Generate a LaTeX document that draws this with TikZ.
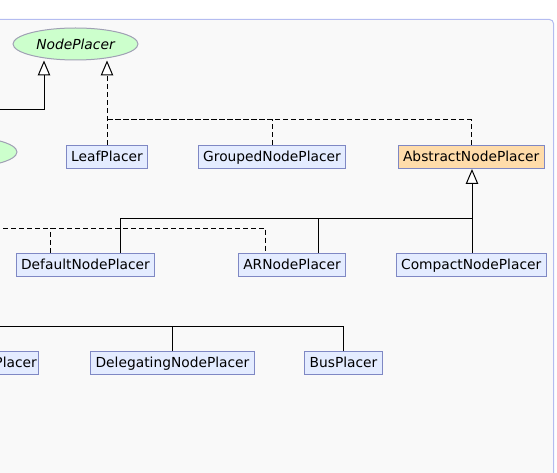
\documentclass[tikz,border=0pt]{standalone}
\usepackage{fontspec}
\setmainfont{DejaVu Sans}
\usetikzlibrary{arrows.meta,positioning,shapes.geometric}

\definecolor{panelfill}{HTML}{F9F9F9}
\definecolor{panelline}{HTML}{B4BCF0}
\definecolor{boxfill}{HTML}{E4ECFF}
\definecolor{boxline}{HTML}{7F88C4}
\definecolor{abstractfill}{HTML}{FFDCAA}
\definecolor{ifacefill}{HTML}{CCFFCC}
\definecolor{ifaceline}{HTML}{A0A0B4}

\tikzset{
    classbox/.style={draw=boxline, fill=boxfill, rectangle, line width=1pt,
        minimum height=23pt, inner xsep=5pt, inner ysep=0pt,
        text height=10pt, text depth=1pt, font=\fontsize{13.8}{16}\selectfont},
    abstractbox/.style={classbox, fill=abstractfill},
    iface/.style={draw=ifaceline, fill=ifacefill, ellipse, line width=1pt,
        minimum width=125pt, minimum height=32pt, inner sep=0pt,
        font=\fontsize{13.8}{16}\selectfont\itshape},
    extends/.style={line width=1pt, -{Triangle[length=15pt, width=12.5pt, fill=white]}},
    realizes/.style={extends, dash pattern=on 5pt off 3pt},
    link/.style={line width=1pt},
    dashlink/.style={line width=1pt, dash pattern=on 5pt off 3pt}
}

\begin{document}
\begin{tikzpicture}[x=1pt, y=-1pt]
    % Fix the frame and keep everything inside it
    \useasboundingbox (0,0) rectangle (557,473);
    \clip (0,0) rectangle (557,473);

    % Panel background
    \draw[panelline, fill=panelfill, line width=1pt, rounded corners=4pt]
        (-20,19.5) rectangle (553.5,500);

    % Interfaces
    \node[iface] (NodePlacer) at (75.5,44) {NodePlacer};
    \node[iface] (OtherIface) at (-45.5,152) {};

    % First row
    \node[classbox] (LeafPlacer) at (107,157) {LeafPlacer};
    \node[classbox] (GroupedNodePlacer) at (272,157) {GroupedNodePlacer};
    \node[abstractbox] (AbstractNodePlacer) at (471.2,157) {AbstractNodePlacer};

    % Second row
    \node[classbox] (DefaultNodePlacer) at (85.5,265) {DefaultNodePlacer};
    \node[classbox] (ARNodePlacer) at (292,265) {ARNodePlacer};
    \node[classbox] (CompactNodePlacer) at (471.2,265) {CompactNodePlacer};

    % Third row
    \node[classbox, anchor=east, inner xsep=2pt] (LeftRightPlacer) at (39.3,363) {LeftRightPlacer};
    \node[classbox] (DelegatingNodePlacer) at (172.5,363) {DelegatingNodePlacer};
    \node[classbox] (BusPlacer) at (343.5,363) {BusPlacer};

    % Free ends of the connectors that leave the frame
    \coordinate (offA) at (-5,110);
    \coordinate (offC) at (-5,228.3);
    \coordinate (offD) at (-5,326);
    \coordinate (busA) at (107,120);
    \coordinate (busB) at (472,218.3);

    % Connectors into NodePlacer
    \draw[extends] (offA) -| ([xshift=-31.5pt]NodePlacer.south);
    \draw[realizes] (LeafPlacer.north) -- ([xshift=31.5pt]NodePlacer.south);
    \draw[dashlink] (GroupedNodePlacer.north) |- (busA);
    \draw[dashlink] (AbstractNodePlacer.north) |- (busA);

    % Connectors into AbstractNodePlacer
    \draw[extends] ([xshift=0.8pt]CompactNodePlacer.north) -- ([xshift=0.8pt]AbstractNodePlacer.south);
    \draw[link] ([xshift=34.5pt]DefaultNodePlacer.north) |- (busB);
    \draw[link] ([xshift=26pt]ARNodePlacer.north) -- ([xshift=26pt]ARNodePlacer.north |- busB);

    % Dashed bus leaving to the left
    \draw[dashlink] (offC) -| ([xshift=-26.3pt]ARNodePlacer.north);
    \draw[dashlink] ([xshift=-35.2pt]DefaultNodePlacer.north) -- ([xshift=-35.2pt]DefaultNodePlacer.north |- offC);

    % Bottom bus leaving to the left
    \draw[link] (offD) -| (BusPlacer.north);
    \draw[link] (DelegatingNodePlacer.north) -- (DelegatingNodePlacer.north |- offD);
\end{tikzpicture}
\end{document}
